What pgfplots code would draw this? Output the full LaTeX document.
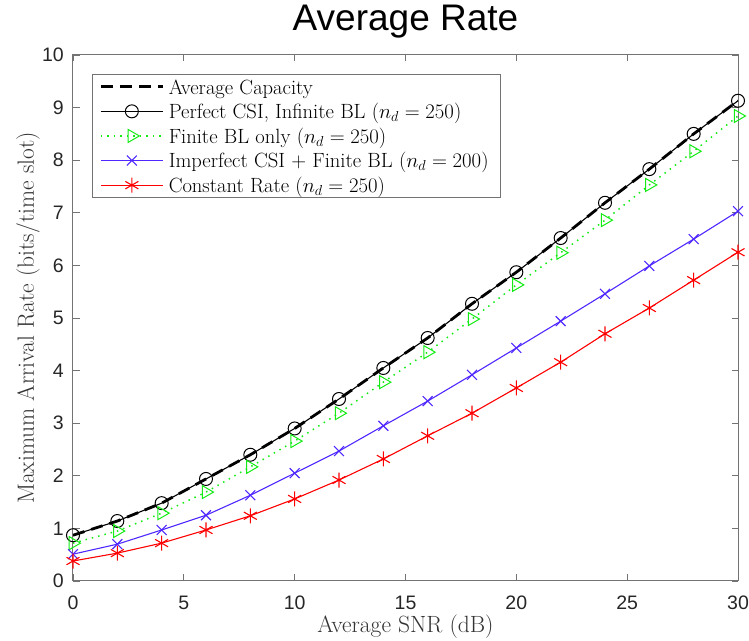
\documentclass[border=0pt]{standalone}
\usepackage{pgfplots}
\pgfplotsset{compat=1.18}
\usepackage{fontspec}
\newfontfamily\arial{Liberation Sans}
\definecolor{mgreen}{RGB}{20,235,20}
\definecolor{mblue}{RGB}{80,40,255}
\definecolor{axgray}{RGB}{115,115,115}
\begin{document}
\begin{tikzpicture}
\begin{axis}[
  name=ax,
  scale only axis,
  width=665pt, height=526pt,
  xmin=0, xmax=30, ymin=0, ymax=10,
  xtick={0,5,...,30}, ytick={0,1,...,10},
  tick align=inside,
  axis line style={axgray, line width=1pt},
  tick style={axgray, line width=0.9pt},
  major tick length=6.5pt,
  ticklabel style={font=\arial\fontsize{19.5}{22}\selectfont, text=black!85, inner sep=0pt},
  xticklabel style={anchor=north, yshift=-15pt},
  yticklabel style={anchor=east, xshift=-9pt},
  /pgf/number format/assume math mode=true,
  title={\arial\fontsize{37}{42}\selectfont Average Rate},
  title style={at={(axis description cs:0.5,1)}, anchor=base, yshift=18pt},
  xlabel={\fontsize{23.5}{26}\selectfont Average SNR (dB)},
  ylabel={\fontsize{23.5}{26}\selectfont Maximum Arrival Rate (bits/time slot)},
  xlabel style={at={(axis description cs:0.5,0)}, anchor=base, yshift=-52pt, text=black!80},
  ylabel style={at={([xshift=-39pt]axis description cs:0,0.5)}, anchor=base, text=black!80},
  legend style={at={([xshift=19pt,yshift=-19pt]axis description cs:0,1)}, anchor=north west,
    font=\fontsize{20.6}{24}\selectfont, draw=axgray, line width=0.9pt,
    row sep=0pt, inner xsep=7pt, inner ysep=0pt,
    nodes={inner ysep=0pt, inner xsep=4.5pt, text height=19.6pt, text depth=5pt}},
  legend cell align=left,
  legend image code/.code={
    \draw[mark repeat=2,mark phase=2,#1]
      plot coordinates {(0pt,0pt) (31pt,0pt) (62pt,0pt)};},
]
\addplot[black, line width=2.8pt, dash pattern=on 12pt off 7pt] coordinates {
(0,0.87)(2,1.14)(4,1.48)(6,1.94)(8,2.40)(10,2.90)(12,3.46)(14,4.05)(16,4.62)(18,5.27)(20,5.87)(22,6.52)(24,7.19)(26,7.83)(28,8.50)(30,9.13)};
\addlegendentry{Average Capacity}
\addplot[black, line width=1.1pt, mark=o, mark size=6.5pt, mark options={solid, line width=1pt}] coordinates {
(0,0.87)(2,1.14)(4,1.48)(6,1.94)(8,2.40)(10,2.90)(12,3.46)(14,4.05)(16,4.62)(18,5.27)(20,5.87)(22,6.52)(24,7.19)(26,7.83)(28,8.50)(30,9.13)};
\addlegendentry{Perfect CSI, Infinite BL ($n_d=250$)}
\addplot[mgreen, line width=1.5pt, dash pattern=on 1.5pt off 5pt, mark=triangle, mark size=7.5pt, mark options={solid, rotate=-90, line width=1pt}] coordinates {
(0,0.72)(2,0.95)(4,1.29)(6,1.69)(8,2.17)(10,2.66)(12,3.19)(14,3.78)(16,4.35)(18,4.98)(20,5.63)(22,6.24)(24,6.86)(26,7.53)(28,8.17)(30,8.84)};
\addlegendentry{Finite BL only ($n_d=250$)}
\addplot[mblue, line width=1.1pt, mark=x, mark size=7pt, mark options={line width=1.1pt}] coordinates {
(0,0.51)(2,0.70)(4,0.97)(6,1.25)(8,1.63)(10,2.05)(12,2.47)(14,2.95)(16,3.42)(18,3.92)(20,4.43)(22,4.94)(24,5.46)(26,5.99)(28,6.50)(30,7.03)};
\addlegendentry{Imperfect CSI + Finite BL ($n_d=200$)}
\addplot[red, line width=1.1pt, mark=asterisk, mark size=7.5pt, mark options={line width=1.1pt}] coordinates {
(0,0.38)(2,0.53)(4,0.72)(6,0.97)(8,1.24)(10,1.56)(12,1.92)(14,2.32)(16,2.76)(18,3.19)(20,3.67)(22,4.16)(24,4.70)(26,5.19)(28,5.72)(30,6.25)};
\addlegendentry{Constant Rate ($n_d=250$)}
\end{axis}
\pgfresetboundingbox
\path ([xshift=-73pt,yshift=-60pt]ax.south west) rectangle ([xshift=11pt,yshift=55pt]ax.north east);
\end{tikzpicture}
\end{document}
